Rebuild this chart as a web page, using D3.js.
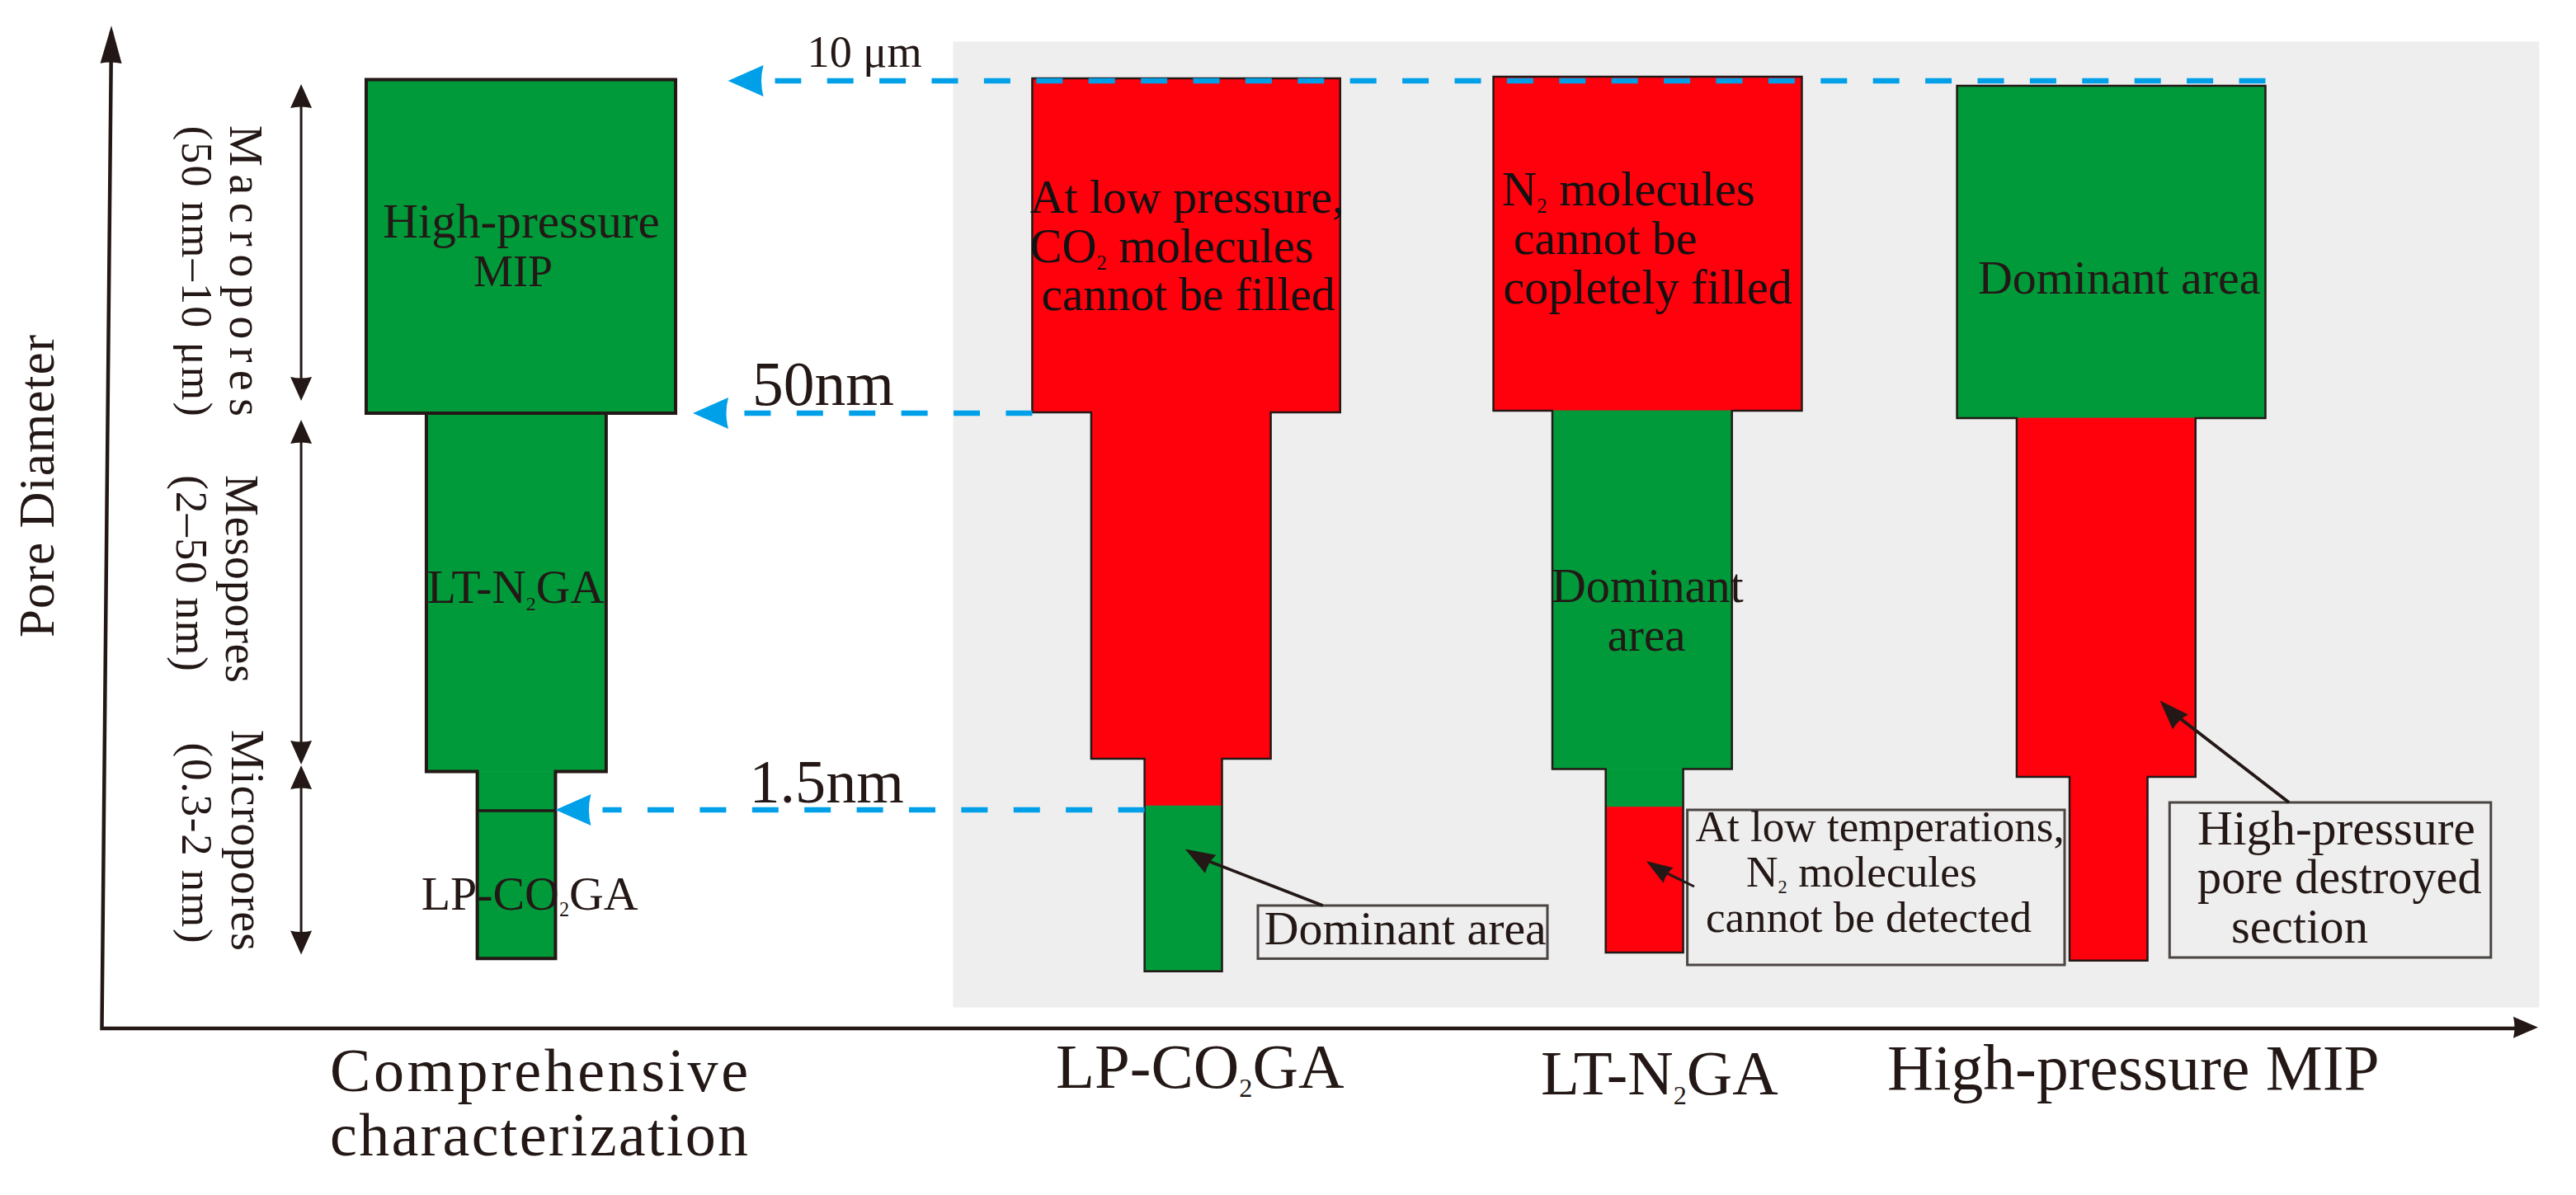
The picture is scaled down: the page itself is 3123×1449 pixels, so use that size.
<!DOCTYPE html>
<html>
<head>
<meta charset="utf-8">
<script src="https://cdn.jsdelivr.net/npm/d3@7"></script>
<style>
html,body{margin:0;padding:0;background:#fff}
svg{display:block}
text{font-family:"Liberation Serif","Times New Roman",serif;fill:#231815}
</style>
</head>
<body>
<svg id="c" width="3123" height="1449"></svg>
<script>
// ---- data (schematic axis units: both axes run 0-100) ----
const categories   = ["Comprehensive characterization", "LP-CO₂GA", "LT-N₂GA", "High-pressure MIP"];
const wideLeft     = [10.85, 38.19, 57.12, 76.15];
const wideRight    = [23.55, 50.83, 69.78, 88.81];
const midLeft      = [13.32, 40.61, 59.54, 78.60];
const midRight     = [20.70, 47.98, 66.91, 85.94];
const narrowLeft   = [15.41, 42.80, 61.73, 80.77];
const narrowRight  = [18.62, 45.98, 64.91, 83.97];
const topLevel     = [94.62, 94.74, 94.90, 94.00];
const macroBase    = [61.35, 61.43, 61.60, 60.86];
const mesoBase     = [25.62, 26.89, 25.86, 25.08];
const splitLevel   = [21.71, 22.20, 22.08, 21.80];
const bottomLevel  = [6.96, 5.70, 7.57, 6.76];
const macroState   = ["good", "bad", "bad", "good"];
const mesoState    = ["good", "bad", "good", "bad"];
const upperMicro   = ["good", "bad", "good", "bad"];
const lowerMicro   = ["good", "good", "bad", "bad"];

const classNames   = ["Macropores", "Mesopores", "Micropores"];
const classRanges  = ["(50 nm–10 μm)", "(2–50 nm)", "(0.3-2 nm)"];
const classTop     = [94.16, 60.69, 26.23];
const classBottom  = [62.58, 26.32, 7.35];

const boundaryLabels = ["10 μm", "50nm", "1.5nm"];
const boundaryLevel  = [94.49, 61.35, 21.79];
const boundaryFrom   = [88.81, 38.19, 42.80];
const boundaryTo     = [25.70, 24.26, 18.62];

const yTitle = "Pore Diameter";

// ---- scales ----
const x = d3.scaleLinear().domain([0, 100]).range([123.5, 3077]);
const y = d3.scaleLinear().domain([0, 100]).range([1247, 31]);
const fillOf = d3.scaleOrdinal().domain(["good", "bad"]).range(["#009a3b", "#ff000d"]);
const ink = "#231815";
const svg = d3.select("#c");

// ---- helpers ----
// Without opts.space the font size is fitted to the width; with it, letter-spacing is.
function label(parent, str, px, py, size, width, opts) {
  opts = opts || {};
  const t = parent.append("text");
  if (opts.rotate) t.attr("transform", `translate(${px},${py}) rotate(${opts.rotate})`);
  else t.attr("x", px).attr("y", py);
  if (opts.fill) t.style("fill", opts.fill);
  const draw = s => {
    t.selectAll("tspan").remove();
    t.attr("font-size", s);
    const bits = str.split("₂");
    bits.forEach((b, i) => {
      const sp = t.append("tspan").text(b);
      if (i > 0) sp.attr("dy", -s * 0.15);
      if (i < bits.length - 1) {
        t.append("tspan").text("2").attr("font-size", s * 0.42).attr("dy", s * 0.15);
      }
    });
  };
  draw(size);
  if (width) {
    const natural = t.node().getComputedTextLength();
    if (opts.space) {
      const count = str.length;
      t.style("letter-spacing", ((width - natural) / Math.max(1, count - 1)) + "px");
    } else {
      draw(size * width / natural);
    }
  }
  return t;
}

function head(parent, tx, ty, fx, fy, len, halfW, notch, color) {
  const a = Math.atan2(fy - ty, fx - tx), c = Math.cos(a), s = Math.sin(a);
  const pt = (u, v) => [tx + u * c - v * s, ty + u * s + v * c];
  const l = pt(len, -halfW), r = pt(len, halfW), n = pt(len - notch, 0);
  parent.append("path")
    .attr("d", `M${tx},${ty}L${l}Q${n} ${r}Z`)
    .attr("fill", color);
}

function arrowLine(parent, fx, fy, tx, ty, sw) {
  parent.append("line").attr("x1", fx).attr("y1", fy).attr("x2", tx).attr("y2", ty)
    .attr("stroke", ink).attr("stroke-width", sw);
}

// ---- grey panel ----
svg.append("rect")
  .attr("x", x(34.94)).attr("y", y(98.41))
  .attr("width", x(100.05) - x(34.94)).attr("height", y(2.09) - y(98.41))
  .attr("fill", "#eeeeee");

// ---- axes ----
const axes = svg.append("g");
axes.append("path")
  .attr("d", d3.line()([[x(0.39), y(99.4)], [x(0), y(0)], [x(99.2), y(0)]]))
  .attr("fill", "none").attr("stroke", ink).attr("stroke-width", 4.5);
head(axes, x(0.39), y(100), x(0), y(0), 46, 13, 3, ink);
head(axes, x(100), y(0.1), x(0), y(0.1), 30, 13, 3, ink);

// ---- columns ----
categories.forEach((cat, i) => {
  const g = svg.append("g");
  const heavy = i === 0;
  const sections = [
    [wideLeft[i], wideRight[i], topLevel[i], macroBase[i], macroState[i]],
    [midLeft[i], midRight[i], macroBase[i], mesoBase[i], mesoState[i]],
    [narrowLeft[i], narrowRight[i], mesoBase[i], splitLevel[i], upperMicro[i]],
    [narrowLeft[i], narrowRight[i], splitLevel[i], bottomLevel[i], lowerMicro[i]]
  ];
  g.selectAll("rect").data(sections).join("rect")
    .attr("x", d => x(d[0])).attr("y", d => y(d[2]))
    .attr("width", d => x(d[1]) - x(d[0])).attr("height", d => y(d[3]) - y(d[2]))
    .attr("fill", d => fillOf(d[4]))
    .attr("stroke", d => fillOf(d[4])).attr("stroke-width", 0.6);
  const outline = [
    [wideLeft[i], topLevel[i]], [wideRight[i], topLevel[i]], [wideRight[i], macroBase[i]],
    [midRight[i], macroBase[i]], [midRight[i], mesoBase[i]], [narrowRight[i], mesoBase[i]],
    [narrowRight[i], bottomLevel[i]], [narrowLeft[i], bottomLevel[i]], [narrowLeft[i], mesoBase[i]],
    [midLeft[i], mesoBase[i]], [midLeft[i], macroBase[i]], [wideLeft[i], macroBase[i]]
  ];
  g.append("path")
    .attr("d", d3.line().x(d => x(d[0])).y(d => y(d[1])).curve(d3.curveLinearClosed)(outline))
    .attr("fill", "none").attr("stroke", ink).attr("stroke-width", heavy ? 4 : 2.5);
  if (heavy) {
    g.append("line").attr("x1", x(narrowLeft[i])).attr("x2", x(narrowRight[i]))
      .attr("y1", y(splitLevel[i])).attr("y2", y(splitLevel[i]))
      .attr("stroke", ink).attr("stroke-width", 3.5);
    g.append("line").attr("x1", x(midLeft[i])).attr("x2", x(midRight[i]))
      .attr("y1", y(macroBase[i])).attr("y2", y(macroBase[i]))
      .attr("stroke", ink).attr("stroke-width", 4);
  }
});

// ---- pore-class double arrows ----
const classX = x(8.18);
classNames.forEach((n, i) => {
  const t = y(classTop[i]), b = y(classBottom[i]);
  arrowLine(svg, classX, t + 20, classX, b - 20, 3);
  head(svg, classX, t, classX, b, 29, 13, 3, ink);
  head(svg, classX, b, classX, t, 29, 13, 3, ink);
});

// ---- dashed boundary arrows ----
boundaryLabels.forEach((b, i) => {
  const ly = y(boundaryLevel[i]), tip = x(boundaryTo[i]);
  svg.append("line")
    .attr("x1", x(boundaryFrom[i])).attr("x2", tip + 57)
    .attr("y1", ly).attr("y2", ly)
    .attr("stroke", "#00a0e9").attr("stroke-width", 6.5)
    .attr("stroke-dasharray", "32 31.4");
  head(svg, tip, ly, tip + 50, ly, 43, 19, 5, "#00a0e9");
});

// ---- boundary labels ----
label(svg, boundaryLabels[0], 978.6, 81, 52, 139);
label(svg, boundaryLabels[1], 912, 491, 72, 172);
label(svg, boundaryLabels[2], 908.5, 973, 70, 187.5);

// ---- axis title & class labels ----
label(svg, yTitle, 64.5, 773, 61, 367, {rotate: -90, space: true});
label(svg, classNames[0], 278.5, 152, 56, 353, {rotate: 90, space: true});
label(svg, classRanges[0], 221, 152.7, 52, 352, {rotate: 90, space: true});
label(svg, classNames[1], 273.6, 576, 56, 252, {rotate: 90, space: true});
label(svg, classRanges[1], 214, 576, 54, 238, {rotate: 90, space: true});
label(svg, classNames[2], 280.6, 885, 56, 268, {rotate: 90, space: true});
label(svg, classRanges[2], 221, 900.6, 53, 243, {rotate: 90, space: true});

// ---- labels inside the first column ----
label(svg, "High-pressure", 464, 288, 54, 336);
label(svg, "MIP", 574, 347, 54, 96);
label(svg, "LT-N₂GA", 517.7, 731, 52, 215);
label(svg, "LP-CO₂GA", 510.7, 1102.7, 52, 263);

// ---- category labels ----
label(svg, "Comprehensive", 400, 1322.5, 74, 507, {space: true});
label(svg, "characterization", 400, 1401, 74, 507, {space: true});
label(svg, categories[1], 1280, 1318.6, 72, 349.6);
label(svg, categories[2], 1868, 1327, 70, 287.8);
label(svg, categories[3], 2288, 1321, 72, 596.7);

// ---- text on red blocks ----
label(svg, "At low pressure,", 1248.7, 257.6, 54, 381, {fill: "#111"});
label(svg, "CO₂ molecules", 1248.7, 318, 54, 344, {fill: "#111"});
label(svg, "cannot be filled", 1262.7, 376, 54, 356, {fill: "#111"});
label(svg, "N₂ molecules", 1821, 249, 54, 307, {fill: "#111"});
label(svg, "cannot be", 1835, 308, 54, 222.6, {fill: "#111"});
label(svg, "copletely filled", 1822.5, 368, 54, 350.5, {fill: "#111"});
label(svg, "Dominant", 1880.8, 729.6, 54, 233);
label(svg, "area", 1948.8, 789, 54, 94.7);
label(svg, "Dominant area", 2398, 356, 54, 342.6);

// ---- callout boxes ----
const boxes = svg.append("g").attr("fill", "none").attr("stroke", "#4a4442").attr("stroke-width", 3);
boxes.append("rect").attr("x", 1525).attr("y", 1098).attr("width", 351).attr("height", 64.4);
boxes.append("rect").attr("x", 2045.6).attr("y", 982).attr("width", 457.4).attr("height", 188);
boxes.append("rect").attr("x", 2630.3).attr("y", 973).attr("width", 389.5).attr("height", 188);

label(svg, "Dominant area", 1532.8, 1145, 53, 342);
label(svg, "At low temperations,", 2055.5, 1020, 47, 447.5);
label(svg, "N₂ molecules", 2117, 1075, 47, 279.8);
label(svg, "cannot be detected", 2068, 1130, 47, 395);
label(svg, "High-pressure", 2664, 1024, 50, 337);
label(svg, "pore destroyed", 2664, 1083, 50, 344.7);
label(svg, "section", 2705, 1143, 50, 166);

// ---- callout arrows ----
arrowLine(svg, 1603.7, 1098, 1452, 1039, 3.5);
head(svg, 1436.7, 1029.6, 1603.7, 1128, 36, 13, 4, ink);
arrowLine(svg, 2054, 1075, 2007, 1052, 3);
head(svg, 1995.8, 1044, 2054, 1082, 32, 11, 4, ink);
arrowLine(svg, 2775, 973, 2630, 861, 4);
head(svg, 2618.6, 849.5, 2775, 1013, 36, 13, 4, ink);
</script>
</body>
</html>
